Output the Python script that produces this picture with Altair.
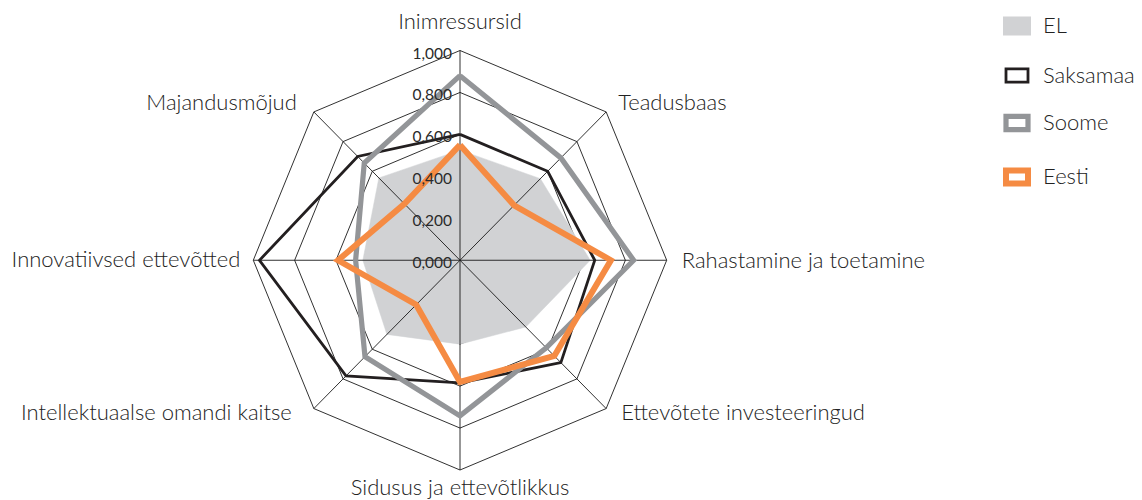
import math
import altair as alt
import pandas as pd

# ---------------- data ----------------
categories = [
    "Inimressursid",
    "Teadusbaas",
    "Rahastamine ja toetamine",
    "Ettevõtete investeeringud",
    "Sidusus ja ettevõtlikkus",
    "Intellektuaalse omandi kaitse",
    "Innovatiivsed ettevõtted",
    "Majandusmõjud",
]
series_names = ["EL", "Saksamaa", "Soome", "Eesti"]
el_values = [0.525, 0.55, 0.63, 0.45, 0.40, 0.50, 0.47, 0.555]
saksamaa_values = [0.60, 0.60, 0.652, 0.69, 0.585, 0.78, 0.97, 0.70]
soome_values = [0.88, 0.69, 0.84, 0.59, 0.742, 0.65, 0.505, 0.655]
eesti_values = [0.55, 0.37, 0.73, 0.645, 0.58, 0.30, 0.59, 0.38]
tick_values = [0.0, 0.2, 0.4, 0.6, 0.8, 1.0]
tick_labels = ["0,000", "0,200", "0,400", "0,600", "0,800", "1,000"]

# ---------------- styles / layout ----------------
colors = ["#d1d2d4", "#231f20", "#939598", "#f58b43"]
fills = ["#d1d2d4", "transparent", "transparent", "transparent"]
widths = [6, 2.8, 5.2, 6]
FONT = "Lato"
WEIGHT = 300
TEXT = "#222222"

W, H = 1126, 492
CX, CY = 452.0, 252.25       # centre of the web inside the plot area (px)
RX, RY = 206.7, 209.75       # px per unit value

xs = alt.Scale(domain=[-CX / RX, (W - CX) / RX], nice=False, zero=False)
ys = alt.Scale(domain=[-(H - CY) / RY, CY / RY], nice=False, zero=False)

n = len(categories)
angles = [math.pi / 2 - 2 * math.pi * k / n for k in range(n)]

series_map = {
    "EL": el_values,
    "Saksamaa": saksamaa_values,
    "Soome": soome_values,
    "Eesti": eesti_values,
}

rows = []
for s in series_names:
    vals = series_map[s]
    for i in range(n + 1):
        k = i % n
        rows.append({"series": s, "idx": i,
                     "x": vals[k] * math.cos(angles[k]),
                     "y": vals[k] * math.sin(angles[k])})
series_df = pd.DataFrame(rows)

ring_rows = []
for lv in tick_values[1:]:
    for i in range(n + 1):
        k = i % n
        ring_rows.append({"level": lv, "idx": i,
                          "x": lv * math.cos(angles[k]),
                          "y": lv * math.sin(angles[k])})
ring_df = pd.DataFrame(ring_rows)

spoke_df = pd.DataFrame({
    "x": [0.0] * n, "y": [0.0] * n,
    "x2": [math.cos(a) for a in angles],
    "y2": [math.sin(a) for a in angles],
})

tick_df = pd.DataFrame({"v": tick_values, "label": tick_labels, "x": [0.0] * len(tick_values)})

label_df = pd.DataFrame({
    "cat": categories,
    "x": [math.cos(a) for a in angles],
    "y": [math.sin(a) for a in angles],
})

X = alt.X("x:Q", scale=xs, axis=None)
Y = alt.Y("y:Q", scale=ys, axis=None)

rings = alt.Chart(ring_df).mark_line(color="#1a1a1a", strokeWidth=0.9).encode(
    x=X, y=Y, detail="level:N", order="idx:Q")

el_fill = alt.Chart(series_df[series_df.series == "EL"]).mark_line(
    fill=colors[0], stroke=colors[0], strokeWidth=0.5).encode(x=X, y=Y, order="idx:Q")

spokes = alt.Chart(spoke_df).mark_rule(color="#1a1a1a", strokeWidth=0.9).encode(
    x=X, y=Y, x2="x2:Q", y2="y2:Q")

legend = alt.Legend(
    title=None, orient="none", legendX=995, legendY=4,
    symbolType="M-1,-0.6H1V0.6H-1Z", symbolSize=484,
    labelFont=FONT, labelFontSize=22, labelFontWeight=WEIGHT, labelColor=TEXT,
    labelOffset=12, rowPadding=18, padding=0,
)
stroke_scale = alt.Scale(domain=series_names, range=colors)
fill_scale = alt.Scale(domain=series_names, range=fills)
width_scale = alt.Scale(type="ordinal", domain=series_names, range=widths)

line_layers = []
for s in ["Saksamaa", "Soome", "Eesti"]:
    line_layers.append(
        alt.Chart(series_df[series_df.series == s]).mark_line(
            strokeJoin="miter", strokeMiterLimit=10
        ).encode(x=X, y=Y, order="idx:Q",
                 stroke=alt.Stroke("series:N", scale=stroke_scale, legend=legend),
                 fill=alt.Fill("series:N", scale=fill_scale, legend=legend),
                 strokeWidth=alt.StrokeWidth("series:N", scale=width_scale, legend=legend))
    )

ticks = alt.Chart(tick_df).mark_text(
    align="right", baseline="middle", dx=-8, dy=3,
    font=FONT, fontSize=15.5, color="#2a2a2a").encode(
    x=alt.X("x:Q", scale=xs, axis=None), y=alt.Y("v:Q", scale=ys, axis=None), text="label:N")

label_layout = [
    ("center", 0, -29),
    ("left", 12, -9),
    ("left", 15, 1),
    ("left", 15, 4),
    ("center", 0, 18),
    ("right", -22, 4),
    ("right", -13, 0),
    ("right", -17, -9),
]
label_layers = []
for cat, (al, ddx, ddy) in zip(categories, label_layout):
    label_layers.append(
        alt.Chart(label_df[label_df.cat == cat]).mark_text(
            align=al, baseline="middle", dx=ddx, dy=ddy,
            font=FONT, fontSize=22, fontWeight=WEIGHT, color=TEXT).encode(x=X, y=Y, text="cat:N")
    )

chart = alt.layer(rings, el_fill, spokes, *line_layers, ticks, *label_layers).properties(
    width=W, height=H, padding=0,
    autosize=alt.AutoSizeParams(type="none"),
).configure_view(stroke=None)

chart.save("out.html", embed_options={"renderer": "svg", "actions": False})
